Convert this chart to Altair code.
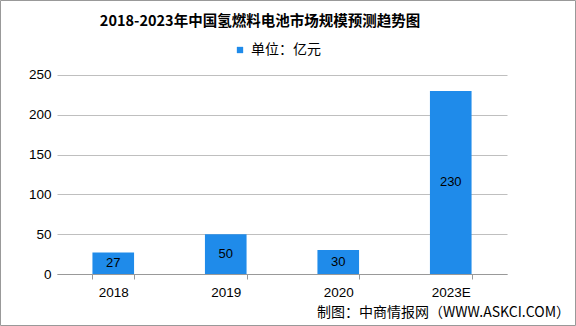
import altair as alt
import pandas as pd

years = ["2018", "2019", "2020", "2023E"]
values = [27, 50, 30, 230]
series_name = "单位：亿元"
title_text = "2018-2023年中国氢燃料电池市场规模预测趋势图"
footer_text = "制图：中商情报网（WWW.ASKCI.COM）"

df = pd.DataFrame({"year": years, "value": values, "series": [series_name] * len(years)})

W, H = 450, 207
PL, PT = 57, 67

base = alt.Chart(df)

bars = base.mark_bar(color="#1F8BEA").encode(
    x=alt.X("year:N", sort=years, title=None,
            scale=alt.Scale(paddingInner=0.63, paddingOuter=0.315),
            axis=alt.Axis(labelAngle=0, labelFontSize=13.5, labelColor="#000000",
                          labelFont="Liberation Sans", domainColor="#999999",
                          tickColor="#999999", tickSize=5, tickBand="extent",
                          labelPadding=6, grid=False)),
    y=alt.Y("value:Q", title=None,
            scale=alt.Scale(domain=[0, 250]),
            axis=alt.Axis(values=[0, 50, 100, 150, 200, 250], labelFontSize=13.5,
                          labelColor="#000000", labelFont="Liberation Sans",
                          domain=False, ticks=False, labelPadding=6,
                          gridColor="#BFBFBF", gridWidth=1)),
    color=alt.Color("series:N", scale=alt.Scale(range=["#1F8BEA"]),
                    legend=alt.Legend(title=None, orient="none", legendX=176, legendY=-24,
                                      symbolType="square", symbolSize=40,
                                      labelFontSize=14, labelFont="Noto Sans CJK SC",
                                      labelColor="#000000", symbolStrokeWidth=0)),
)

labels = base.mark_text(fontSize=13, font="Liberation Sans", color="#000000").encode(
    x=alt.X("year:N", sort=years),
    y=alt.Y("mid:Q"),
    text=alt.Text("value:Q"),
).transform_calculate(mid="datum.value / 2")

title = alt.Chart(pd.DataFrame({"t": [title_text]})).mark_text(
    fontSize=14.5, fontWeight="bold", font="Noto Sans CJK SC", color="#000000",
    align="center", baseline="middle"
).encode(x=alt.value(260 - PL), y=alt.value(22 - PT), text="t:N")

footer = alt.Chart(pd.DataFrame({"t": [footer_text]})).mark_text(
    fontSize=14, font="Noto Sans CJK SC", color="#000000",
    align="right", baseline="middle"
).encode(x=alt.value(570 - PL), y=alt.value(313 - PT), text="t:N")

border = alt.Chart(pd.DataFrame({"a": [0]})).mark_rect(
    fill=None, stroke="#999999", strokeWidth=1
).encode(x=alt.value(-PL + 0.5), x2=alt.value(576 - PL - 0.5),
         y=alt.value(-PT + 0.5), y2=alt.value(326 - PT - 0.5))

chart = alt.layer(bars, labels, title, footer, border).properties(
    width=W, height=H,
    autosize=alt.AutoSizeParams(type="none"),
    padding={"left": PL, "top": PT, "right": 576 - PL - W, "bottom": 326 - PT - H},
    background="#FFFFFF",
).configure_view(stroke=None)

chart.save("out.html", embed_options={"renderer": "svg", "actions": False})
